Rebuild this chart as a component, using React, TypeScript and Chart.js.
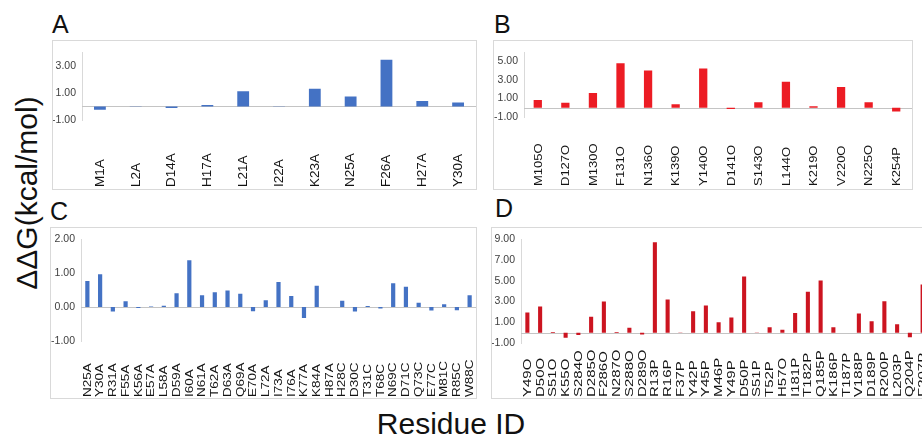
import React, { useEffect, useRef } from "react";
import { Chart, registerables } from "chart.js";

Chart.register(...registerables);

const FONT = '"Liberation Sans", Arial, Helvetica, sans-serif';

// ---------- Data ----------
const labelsA = ["M1A", "L2A", "D14A", "H17A", "L21A", "I22A", "K23A", "N25A", "F26A", "H27A", "Y30A"];
const valuesA = [-0.25, -0.02, -0.12, 0.1, 1.13, 0.02, 1.31, 0.73, 3.44, 0.4, 0.3];
const ticksA = [-1, 1, 3];

const labelsB = ["M105O", "D127O", "M130O", "F131O", "N136O", "K139O", "Y140O", "D141O", "S143O", "L144O", "K219O", "V220O", "N225O", "K254P"];
const valuesB = [0.83, 0.53, 1.6, 4.8, 4.03, 0.37, 4.23, -0.13, 0.6, 2.8, 0.17, 2.23, 0.6, -0.4];
const ticksB = [-1, 1, 3, 5];

const labelsC = ["N25A", "Y30A", "R31A", "F55A", "K56A", "E57A", "L58A", "D59A", "I60A", "N61A", "T62A", "D63A", "Q69A", "E70A", "L72A", "I73A", "I76A", "K77A", "K84A", "H87A", "H28C", "D30C", "T31C", "T68C", "N69C", "D71C", "Q73C", "E77C", "M81C", "R85C", "W88C"];
const valuesC = [0.77, 0.97, -0.13, 0.17, -0.03, 0.02, 0.04, 0.41, 1.38, 0.35, 0.44, 0.49, 0.39, -0.12, 0.2, 0.74, 0.33, -0.32, 0.63, 0.0, 0.19, -0.13, 0.03, -0.04, 0.7, 0.6, 0.13, -0.1, 0.08, -0.09, 0.35];
const ticksC = [-1, 0, 1, 2];

const labelsD = ["Y49O", "D50O", "S51O", "K55O", "S284O", "D285O", "F286O", "N287O", "S288O", "D289O", "R13P", "R16P", "F37P", "Y42P", "Y45P", "M46P", "Y49P", "D50P", "S51P", "T52P", "H57O", "I181P", "T182P", "Q185P", "K186P", "T187P", "V188P", "D189P", "R200P", "L203P", "Q204P", "F207P"];
const valuesD = [1.93, 2.53, 0.05, -0.5, -0.22, 1.53, 3.0, 0.05, 0.47, -0.19, 8.7, 3.19, 0.02, 2.07, 2.62, 1.0, 1.46, 5.4, 0.02, 0.53, 0.28, 1.9, 3.94, 5.03, 0.53, 0.0, 1.84, 1.09, 3.03, 0.81, -0.44, 4.65];
const ticksD = [-1, 1, 3, 5, 7, 9];

type PanelCfg = {
  letter: string;
  labels: string[];
  values: number[];
  ticks: number[];
  min: number;
  max: number;
  color: string;
  left: number;
  top: number;
  width: number;
  height: number;
  yWidth: number;
  padTop: number;
  padRight: number;
  padBottom: number;
  barPct: number;
  labelSize: number;
  labelScale: number;
  labelY: number;
  letterLeft: number;
  letterTop: number;
};

const panels: PanelCfg[] = [
  {
    letter: "A", labels: labelsA, values: valuesA, ticks: ticksA, min: -1, max: 4, color: "#4472C4",
    left: 52, top: 40, width: 425, height: 150, yWidth: 29, padTop: 6, padRight: 0, padBottom: 69,
    barPct: 0.33, labelSize: 13.5, labelScale: 0.9, labelY: 146, letterLeft: 52, letterTop: 12,
  },
  {
    letter: "B", labels: labelsB, values: valuesB, ticks: ticksB, min: -1, max: 6, color: "#EC1C24",
    left: 493, top: 40, width: 420, height: 150, yWidth: 30, padTop: 6, padRight: 2, padBottom: 72,
    barPct: 0.3, labelSize: 13, labelScale: 0.9, labelY: 145, letterLeft: 494, letterTop: 12,
  },
  {
    letter: "C", labels: labelsC, values: valuesC, ticks: ticksC, min: -1, max: 2, color: "#4472C4",
    left: 50, top: 227, width: 427, height: 172, yWidth: 30, padTop: 6, padRight: 0, padBottom: 57,
    barPct: 0.33, labelSize: 13.5, labelScale: 0.75, labelY: 169, letterLeft: 50, letterTop: 199,
  },
  {
    letter: "D", labels: labelsD, values: valuesD, ticks: ticksD, min: -1, max: 9, color: "#CC1420",
    left: 491, top: 227, width: 443, height: 172, yWidth: 29, padTop: 8, padRight: 4, padBottom: 55,
    barPct: 0.32, labelSize: 15, labelScale: 0.72, labelY: 169, letterLeft: 495, letterTop: 196,
  },
];

function Panel({ cfg }: { cfg: PanelCfg }) {
  const ref = useRef<HTMLCanvasElement | null>(null);
  const cw = cfg.width - 2;
  const ch = cfg.height - 2;

  useEffect(() => {
    if (!ref.current) return;
    const overlay = {
      id: "overlay" + cfg.letter,
      beforeDatasetsDraw(chart: any) {
        const { ctx, chartArea } = chart;
        const y = Math.round(chart.scales.y.getPixelForValue(0)) + 0.5;
        ctx.save();
        ctx.strokeStyle = "#C4C4C4";
        ctx.lineWidth = 1;
        ctx.beginPath();
        ctx.moveTo(chartArea.left, y);
        ctx.lineTo(chartArea.right + 2, y);
        ctx.stroke();
        ctx.restore();
      },
      afterDraw(chart: any) {
        const { ctx } = chart;
        const xs = chart.scales.x;
        ctx.save();
        ctx.fillStyle = "#141414";
        ctx.font = `${cfg.labelSize}px ${FONT}`;
        ctx.textAlign = "left";
        ctx.textBaseline = "middle";
        cfg.labels.forEach((lbl, i) => {
          const x = xs.getPixelForValue(i);
          ctx.save();
          ctx.translate(x + 0.5, cfg.labelY);
          ctx.rotate(-Math.PI / 2);
          ctx.scale(1, cfg.labelScale);
          ctx.fillText(lbl, 0, 0);
          ctx.restore();
        });
        ctx.restore();
      },
    };

    const chart = new Chart(ref.current, {
      type: "bar",
      data: {
        labels: cfg.labels,
        datasets: [
          {
            data: cfg.values,
            backgroundColor: cfg.color,
            borderWidth: 0,
            categoryPercentage: 1,
            barPercentage: cfg.barPct,
          },
        ],
      },
      options: {
        animation: false,
        responsive: false,
        devicePixelRatio: 1,
        layout: { padding: { top: cfg.padTop, right: cfg.padRight, bottom: cfg.padBottom, left: 0 } },
        plugins: { legend: { display: false }, tooltip: { enabled: false } },
        scales: {
          x: { display: false },
          y: {
            min: cfg.min,
            max: cfg.max,
            afterBuildTicks: (s: any) => {
              s.ticks = cfg.ticks.map((v) => ({ value: v }));
            },
            afterFit: (s: any) => {
              s.width = cfg.yWidth;
            },
            grid: { display: false, drawTicks: false },
            border: { display: true, color: "#D9D9D9", width: 1 },
            ticks: {
              padding: 6,
              color: "#404040",
              font: { size: 10.5, family: FONT, lineHeight: 1 },
              callback: (v: any) => Number(v).toFixed(2),
            },
          },
        },
      },
      plugins: [overlay],
    } as any);
    return () => chart.destroy();
  }, [cfg]);

  return (
    <>
      <div
        style={{
          position: "absolute",
          left: cfg.left,
          top: cfg.top,
          width: cfg.width,
          height: cfg.height,
          border: "1px solid #D9D9D9",
          boxSizing: "border-box",
          background: "#fff",
        }}
      >
        <canvas
          ref={ref}
          width={cw}
          height={ch}
          style={{ position: "absolute", left: 0, top: 0, width: cw, height: ch, display: "block" }}
        />
      </div>
      <div
        style={{
          position: "absolute",
          left: cfg.letterLeft,
          top: cfg.letterTop,
          fontSize: 25,
          lineHeight: "25px",
          fontFamily: FONT,
          color: "#111",
        }}
      >
        {cfg.letter}
      </div>
    </>
  );
}

export default function App() {
  return (
    <div
      style={{
        position: "fixed",
        left: 0,
        top: 0,
        width: 922,
        height: 440,
        overflow: "hidden",
        background: "#fff",
        fontFamily: FONT,
      }}
    >
      {panels.map((p) => (
        <Panel key={p.letter} cfg={p} />
      ))}
      <div
        style={{
          position: "absolute",
          left: 27 - 130,
          top: 193 - 17,
          width: 260,
          height: 34,
          lineHeight: "34px",
          textAlign: "center",
          fontSize: 30,
          fontFamily: FONT,
          color: "#111",
          whiteSpace: "nowrap",
          transform: "rotate(-90deg)",
        }}
      >
        ΔΔG(kcal/mol)
      </div>
      <div
        style={{
          position: "absolute",
          left: 451 - 150,
          top: 407,
          width: 300,
          height: 34,
          lineHeight: "34px",
          textAlign: "center",
          fontSize: 30,
          fontFamily: FONT,
          color: "#111",
          whiteSpace: "nowrap",
        }}
      >
        Residue ID
      </div>
    </div>
  );
}
